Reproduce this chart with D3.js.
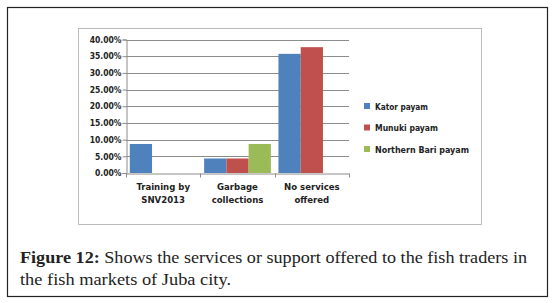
<!DOCTYPE html>
<html>
<head>
<meta charset="utf-8">
<script src="https://cdn.jsdelivr.net/npm/d3@7"></script>
<style>
body { margin: 0; background: #fff; }
svg { display: block; }
</style>
</head>
<body>
<svg id="svg1" width="553" height="303"></svg>
<script>
var categories = [['Training by', 'SNV2013'], ['Garbage', 'collections'], ['No services', 'offered']];
var series = ['Kator payam', 'Munuki payam', 'Northern Bari payam'];
var colors = ['#4f81bd', '#c0504d', '#9bbb59'];
// values in percent, one array per series
var kator = [8.7, 4.35, 35.7];
var munuki = [0, 4.35, 37.7];
var northernBari = [0, 8.7, 0];
var yTicks = [0, 5, 10, 15, 20, 25, 30, 35, 40];

var values = [kator, munuki, northernBari];
var svg1 = d3.select('#svg1');

// outer figure frame and inner chart frame
svg1.append('rect').attr('x', 7.5).attr('y', 7.5).attr('width', 540).attr('height', 289)
	.attr('fill', 'none').attr('stroke', '#222').attr('stroke-width', 1.2);
svg1.append('rect').attr('x', 78.5).attr('y', 28.5).attr('width', 403).attr('height', 196)
	.attr('fill', 'none').attr('stroke', '#bcbcbc').attr('stroke-width', 1);

var x_scale = d3.scaleBand().domain(d3.range(categories.length)).range([126, 349]);
var x_inner = d3.scaleBand().domain(d3.range(series.length)).range([0, x_scale.bandwidth()]).paddingInner(0).paddingOuter(0.17);
var y_scale = d3.scaleLinear().domain([0, 40]).range([173, 39.5]);

var font = '"DejaVu Sans Condensed", "DejaVu Sans", sans-serif';

// gridlines
svg1.append('g').selectAll('line').data(yTicks.slice(1)).enter().append('line')
	.attr('x1', 126).attr('x2', 349)
	.attr('y1', d => Math.round(y_scale(d)) + 0.5).attr('y2', d => Math.round(y_scale(d)) + 0.5)
	.attr('stroke', '#8c8c8c').attr('stroke-width', 1);

// bars
var groups = svg1.append('g').selectAll('g').data(values).enter().append('g')
	.attr('fill', (d, i) => colors[i]);
groups.selectAll('rect').data((d, si) => d.map((v, ci) => ({v: v, si: si, ci: ci}))).enter()
	.filter(d => d.v > 0).append('rect')
	.attr('x', d => x_scale(d.ci) + x_inner(d.si))
	.attr('width', x_inner.bandwidth())
	.attr('y', d => y_scale(d.v))
	.attr('height', d => y_scale(0) - y_scale(d.v));

// y axis
var yAxis = svg1.append('g').attr('transform', 'translate(126.5,0)')
	.call(d3.axisLeft(y_scale).tickValues(yTicks).tickFormat(d => d.toFixed(2) + '%').tickSizeOuter(0).tickSize(4));
yAxis.select('.domain').attr('stroke', '#8c8c8c');
yAxis.selectAll('.tick line').attr('stroke', '#8c8c8c');
yAxis.selectAll('text').attr('font-family', font).attr('font-size', 8.5).attr('font-weight', 'bold')
	.attr('fill', '#222').attr('x', -5);

// x axis
var xAxis = svg1.append('g').attr('transform', 'translate(0,173.5)')
	.call(d3.axisBottom(x_scale).tickSize(0).tickFormat(''));
xAxis.select('.domain').attr('stroke', '#8c8c8c');
xAxis.selectAll('.sep').data(d3.range(categories.length + 1)).enter().append('line')
	.attr('x1', d => Math.round(126 + d * x_scale.step()) + 0.5).attr('x2', d => Math.round(126 + d * x_scale.step()) + 0.5)
	.attr('y1', 0).attr('y2', 4).attr('stroke', '#8c8c8c');

var catLabels = svg1.append('g').selectAll('text').data(categories).enter().append('text')
	.attr('x', (d, i) => x_scale(i) + x_scale.bandwidth() / 2)
	.attr('y', 190)
	.attr('text-anchor', 'middle')
	.attr('font-family', font).attr('font-size', 9.5).attr('font-weight', 'bold').attr('fill', '#222');
catLabels.selectAll('tspan').data(d => d).enter().append('tspan')
	.attr('x', function () { return d3.select(this.parentNode).attr('x'); })
	.attr('dy', (d, i) => i === 0 ? 0 : 13)
	.text(d => d);

// legend
var legend = svg1.append('g').selectAll('g').data(series).enter().append('g')
	.attr('transform', (d, i) => 'translate(364,' + (106 + i * 21.5) + ')');
legend.append('rect').attr('x', 0).attr('y', -3).attr('width', 6).attr('height', 6)
	.attr('fill', (d, i) => colors[i]);
legend.append('text').attr('x', 11).attr('y', 3.5)
	.attr('font-family', font).attr('font-size', 9.5).attr('font-weight', 'bold').attr('fill', '#222')
	.attr('textLength', 94).attr('lengthAdjust', 'spacingAndGlyphs')
	.filter((d, i) => i !== 2).attr('textLength', null);
legend.selectAll('text').text(d => d);
legend.filter((d, i) => i === 0).select('text').attr('textLength', 53).attr('lengthAdjust', 'spacingAndGlyphs');
legend.filter((d, i) => i === 1).select('text').attr('textLength', 63).attr('lengthAdjust', 'spacingAndGlyphs');

// caption
var cap = svg1.append('text').attr('x', 20).attr('y', 263)
	.attr('font-family', '"Liberation Serif", serif').attr('font-size', 17).attr('fill', '#222')
	.attr('textLength', 507).attr('lengthAdjust', 'spacingAndGlyphs');
cap.append('tspan').attr('font-weight', 'bold').text('Figure 12:');
cap.append('tspan').text(' Shows the services or support offered to the fish traders in');
svg1.append('text').attr('x', 20).attr('y', 285)
	.attr('font-family', '"Liberation Serif", serif').attr('font-size', 17).attr('fill', '#222')
	.attr('textLength', 211).attr('lengthAdjust', 'spacingAndGlyphs')
	.text('the fish markets of Juba city.');
</script>
</body>
</html>
